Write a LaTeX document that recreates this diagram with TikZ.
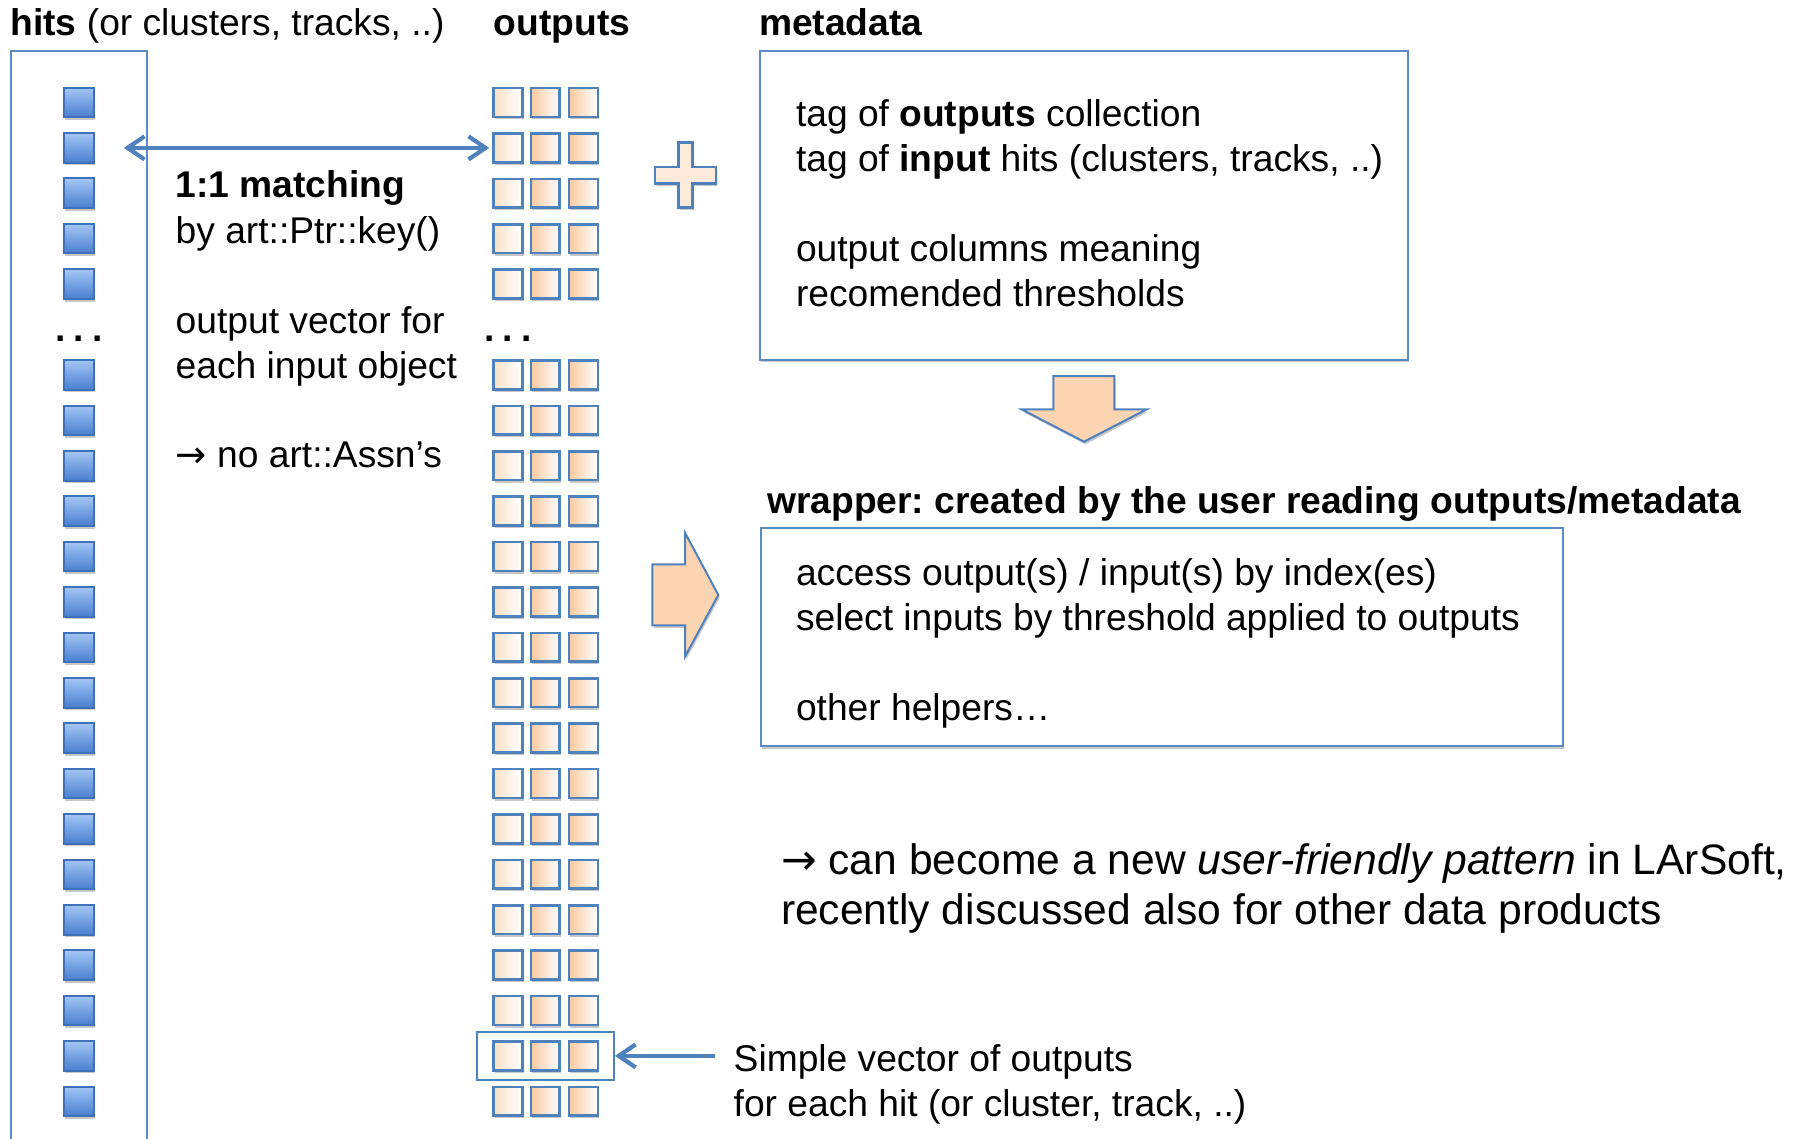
\documentclass[tikz,border=0pt]{standalone}
\usepackage{fontspec}
\setmainfont{Liberation Sans}
\newfontfamily\arrowfont{DejaVu Sans}
\usetikzlibrary{arrows.meta,shadows,fit}
\frenchspacing
\definecolor{lineblue}{HTML}{4F81BD}
\definecolor{boxblue}{HTML}{5B8AC6}
\definecolor{sqborder}{HTML}{3F70B8}
\definecolor{sqtop}{HTML}{A3C6F5}
\definecolor{sqbot}{HTML}{4A7ECF}
\definecolor{orfill}{HTML}{F9C9A0}
\definecolor{orlight}{HTML}{FCE0C8}
\definecolor{plusfill}{HTML}{FDEADA}
\definecolor{arrowfill}{HTML}{FBD4B2}
\tikzset{
  txt/.style={anchor=base west, inner sep=0pt, font=\fontsize{18.6pt}{22.5pt}\selectfont},
  bigtxt/.style={anchor=base west, inner sep=0pt, font=\fontsize{21.3pt}{25.4pt}\selectfont},
  softshadow/.style={drop shadow={shadow xshift=0.7pt, shadow yshift=-1.3pt, opacity=0.22, fill=black}},
  hitsq/.style={draw=sqborder, line width=1pt, top color=sqtop, bottom color=sqbot,
    minimum size=14.8pt, inner sep=0pt, softshadow},
  outsqA/.style={draw=lineblue, line width=1.3pt, left color=orlight, right color=white,
    minimum size=14.4pt, inner sep=0pt, softshadow},
  outsqB/.style={outsqA, left color=orfill, right color=white},
  framebox/.style={draw=boxblue, line width=1pt},
  panel/.style={draw=boxblue, line width=1pt, fill=white, inner sep=0pt, softshadow},
  selbox/.style={draw=lineblue, line width=1pt, inner sep=0pt},
  bigarrow/.style={draw=lineblue, line width=1pt, fill=arrowfill, softshadow},
  plusshape/.style={draw=lineblue, line width=1.4pt, fill=plusfill, softshadow},
  conn/.style={draw=lineblue, line width=2.1pt},
  barb/.tip={Straight Barb[length=8.5pt,width=11.5pt]},
  dots/.style={anchor=base, inner sep=0pt, font=\fontsize{18.6pt}{22.5pt}\selectfont\bfseries}
}
\begin{document}
\begin{tikzpicture}[x=0.5pt,y=-0.5pt]
\useasboundingbox (0,0) rectangle (1808,1139);

% hits frame (open at bottom, cut by picture edge)
\draw[framebox] (10.5,1139) -- (10.5,51) -- (146.5,51) -- (146.5,1139);

% squares
\foreach \r in {0,1,2,3,4,6,7,8,...,22} {
  \pgfmathsetmacro\yy{102.5+45.4*\r}
  \node[hitsq] (b\r) at (78.8,\yy) {};
  \node[outsqA] (o\r-1) at (507.8,\yy) {};
  \node[outsqB] (o\r-2) at (545.2,\yy) {};
  \node[outsqB] (o\r-3) at (583.4,\yy) {};
}
\node[dots] (hdots) at (79,341) {.\kern4pt.\kern4pt.};
\node[dots] (odots) at (508,341) {.\kern4pt.\kern4pt.};

% titles
\node[txt] (thits) at (10,35.7) {\textbf{hits} (or clusters, tracks, ..)};
\node[txt] (touts) at (493.5,35.7) {\textbf{outputs}};
\node[txt] (tmeta) at (758.7,35.7) {\textbf{metadata}};

% matching arrow and texts
\draw[conn, {barb}-{barb}, shorten <=14.6pt, shorten >=1.4pt] (b1.east) -- (o1-1.west);
\node[txt] (m1) at (175.3,197.2) {\textbf{1:1 matching}};
\node[txt] (m2) at (175.3,243.3) {by art::Ptr::key()};
\node[txt] (m3) at (175.3,333.2) {output vector for};
\node[txt] (m4) at (175.3,378.2) {each input object};
\node[txt] (m5) at (175.3,467) {{\arrowfont →} no art::Assn’s};

% plus sign
\draw[plusshape] (678.3,142.5) -- (692.7,142.5) -- (692.7,167) -- (716,167) -- (716,183.5)
  -- (692.7,183.5) -- (692.7,207.5) -- (678.3,207.5) -- (678.3,183.5) -- (655,183.5)
  -- (655,167) -- (678.3,167) -- cycle;

% metadata box
\node[panel, minimum width=324pt, minimum height=154.5pt] (meta) at (1084,205.3) {};
\node[txt] (md1) at (795.6,126.8) {tag of \textbf{outputs} collection};
\node[txt] (md2) at (795.6,171.8) {tag of \textbf{input} hits (clusters, tracks, ..)};
\node[txt] (md3) at (795.6,261.7) {output columns meaning};
\node[txt] (md4) at (795.6,306.7) {recomended thresholds};

% down arrow
\draw[bigarrow] (1053.3,376) -- (1114.3,376) -- (1114.3,409.3) -- (1146.7,409.3)
  -- (1084,441.7) -- (1021.5,409.3) -- (1053.3,409.3) -- cycle;

% right arrow
\draw[bigarrow] (652.3,564.3) -- (685,564.3) -- (685,532.7) -- (718.3,595)
  -- (685,656.7) -- (685,625.3) -- (652.3,625.3) -- cycle;

% wrapper
\node[txt] (twrap) at (766.8,513.1) {\textbf{wrapper: created by the user reading outputs/metadata}};
\node[panel, minimum width=400.8pt, minimum height=109pt] (wrap) at (1161.8,637) {};
\node[txt] (w1) at (795.6,585.7) {access output(s) / input(s) by index(es)};
\node[txt] (w2) at (795.6,630.7) {select inputs by threshold applied to outputs};
\node[txt] (w3) at (795.6,720.6) {other helpers…};

% bottom paragraph
\node[bigtxt] (p1) at (780.6,874) {{\arrowfont →} can become a new \textit{user-friendly pattern} in LArSoft,};
\node[bigtxt] (p2) at (780.6,924.7) {recently discussed also for other data products};

% selected row
\node[selbox, fit=(o21-1)(o21-3), inner xsep=7.4pt, inner ysep=4.2pt] (sel) {};
\node[txt] (s1) at (733.3,1071.2) {Simple vector of outputs};
\node[txt] (s2) at (733.3,1116.1) {for each hit (or cluster, track, ..)};
\draw[conn, -{barb}, shorten <=9.1pt] (s1.west |- sel.east) -- (sel.east);
\end{tikzpicture}
\end{document}
